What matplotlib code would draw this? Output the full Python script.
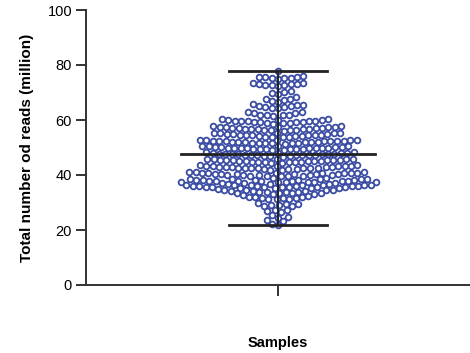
import numpy as np
import matplotlib
matplotlib.use("Agg")
import matplotlib.pyplot as plt

plt.rcParams["font.family"] = ["Liberation Sans", "DejaVu Sans"]

# total reads per sample (million)
reads = [
    77.8,
    75.9, 75.6, 75.2, 75.7, 75.4, 75.0, 75.8, 75.3,
    73.5, 73.2, 72.9, 72.6, 73.0, 72.7, 73.3, 72.4, 73.1,
    70.5, 70.0, 69.6, 70.2,
    68.3, 67.8, 67.4, 67.0, 66.6, 67.6,
    65.8, 65.0, 64.2, 65.6, 64.8, 64.4, 64.6, 65.2, 65.4,
    62.8, 62.0, 61.6, 62.6, 61.8, 62.9, 61.7, 62.5, 61.9,
    60.2, 59.9, 59.6, 59.3, 59.0, 60.0, 59.7, 59.4, 59.1, 58.8, 60.1, 59.8,
    59.5, 59.2, 58.9, 59.6, 60.3, 58.7,
    57.6, 57.3, 57.0, 56.7, 56.4, 57.4, 57.1, 56.8, 56.5, 57.7, 57.2, 56.9,
    56.6, 57.5, 56.3, 57.8, 56.2, 57.0, 56.7, 57.3, 56.1,
    55.2, 54.9, 54.6, 54.3, 54.0, 55.0, 54.7, 54.4, 54.1, 55.3, 54.8, 54.5,
    54.2, 55.1, 53.9, 55.4, 54.0, 54.7, 53.8, 55.2, 54.5,
    52.8, 52.5, 52.2, 51.9, 51.6, 52.6, 52.3, 52.0, 51.7, 52.9, 52.4, 52.1,
    51.8, 51.5, 52.7, 52.2, 51.9, 52.5, 51.6, 52.0, 52.3, 51.4, 52.8, 51.8, 52.1,
    50.4, 50.1, 49.8, 49.5, 49.2, 50.3, 50.0, 49.7, 49.4, 50.5, 49.9, 49.6,
    49.3, 50.2, 49.8, 49.5, 50.6, 49.1, 50.0, 49.7, 50.4, 49.4, 50.1, 49.9,
    48.1, 47.8, 47.5, 47.2, 46.9, 48.0, 47.7, 47.4, 47.1, 48.3, 47.6, 47.3,
    47.0, 46.8, 47.9, 47.5, 47.2, 48.2, 46.7, 47.8, 47.4, 47.1, 48.0, 47.6,
    45.8, 45.5, 45.2, 44.9, 44.6, 45.7, 45.4, 45.1, 44.8, 46.0, 45.3, 45.0,
    44.7, 44.5, 45.6, 45.2, 44.9, 45.9, 44.4, 45.5, 45.1, 44.8, 45.7, 45.3,
    43.4, 43.1, 42.8, 42.5, 42.2, 43.3, 43.0, 42.7, 42.4, 43.6, 42.9, 42.6,
    42.3, 42.0, 43.2, 42.8, 42.5, 43.5, 41.9, 43.0, 42.7, 42.2, 43.1, 42.4, 43.4,
    41.0, 40.7, 40.4, 40.1, 39.8, 40.9, 40.6, 40.3, 40.0, 41.2, 40.5, 40.2,
    39.9, 39.6, 40.8, 40.4, 40.1, 41.1, 39.5, 40.6, 40.3, 39.8, 40.9, 40.0, 40.7, 39.7,
    38.6, 38.3, 38.0, 37.7, 37.4, 38.5, 38.2, 37.9, 37.6, 38.8, 38.1, 37.8,
    37.5, 37.2, 38.4, 38.0, 37.7, 38.7, 37.1, 38.2, 37.9, 37.4, 38.5, 37.6,
    38.3, 37.3, 38.9, 37.0,
    36.6, 36.3, 36.0, 35.7, 35.4, 36.5, 36.2, 35.9, 35.6, 36.8, 36.1, 35.8,
    35.5, 35.2, 36.4, 36.0, 35.7, 36.7, 35.1, 36.2, 35.9, 35.4, 36.5, 35.6, 36.3,
    36.1, 35.8,
    34.4, 34.0, 33.6, 34.2, 33.8, 34.6, 33.4, 34.1, 33.7, 34.3, 33.9, 34.5, 33.5,
    34.8, 33.3, 34.7, 33.2, 33.0, 32.6,
    32.1, 31.7, 31.3, 31.9, 31.5, 32.3, 31.1, 31.8, 31.4, 32.0,
    29.7, 29.2, 28.8, 29.5, 29.0, 28.6, 29.3,
    27.4, 26.9, 27.2, 26.6,
    25.3, 24.8, 24.5,
    23.6, 23.2,
    21.9, 22.1,
]

y_ticks = [0, 20, 40, 60, 80, 100]
blue = "#3a4ba3"

W, H, DPI = 4.70, 3.53, 100
ax_rect = [86 / 470, 68 / 353, 384 / 470, 275 / 353]
xlim = (-0.75, 0.75)
ylim = (0, 100)


def swarm_offsets(values, px_per_y, diam):
    """Place points side by side (pixel space), nearest to the centre first."""
    order = np.argsort(values)
    ys = np.asarray(values)[order] * px_per_y
    placed_x, placed_y = [], []
    out = np.zeros(len(values))
    for idx, y in zip(order, ys):
        cands = [0.0]
        near = [(px, py) for px, py in zip(placed_x, placed_y) if abs(py - y) < diam]
        for px, py in near:
            dx = np.sqrt(diam**2 - (py - y) ** 2)
            cands += [px - dx, px + dx]
        cands.sort(key=abs)
        for c in cands:
            if all((c - px) ** 2 + (y - py) ** 2 >= diam**2 - 1e-6 for px, py in near):
                break
        placed_x.append(c)
        placed_y.append(y)
        out[idx] = c
    return out


fig = plt.figure(figsize=(W, H), dpi=DPI)
ax = fig.add_axes(ax_rect)

px_per_y = ax_rect[3] * H * DPI / (ylim[1] - ylim[0])
px_per_x = ax_rect[2] * W * DPI / (xlim[1] - xlim[0])
x_px = swarm_offsets(reads, px_per_y, 6.4)
xs = x_px / px_per_x

ax.scatter(xs, reads, s=17, facecolor="white", edgecolor=blue, linewidth=1.3, zorder=2)

mean = np.mean(reads)
lo, hi = np.min(reads), np.max(reads)
ax.plot([0, 0], [lo, hi], color="#222222", lw=1.4, zorder=3)
ax.plot([-0.38, 0.38], [mean, mean], color="#222222", lw=2.0, zorder=3)
ax.plot([-0.19, 0.19], [hi, hi], color="#222222", lw=2.0, zorder=3)
ax.plot([-0.19, 0.19], [lo, lo], color="#222222", lw=2.0, zorder=3)

ax.set_xlim(*xlim)
ax.set_ylim(*ylim)
ax.set_yticks(y_ticks)
ax.set_xticks([0])
ax.set_xticklabels([""])
for side in ["top", "right"]:
    ax.spines[side].set_visible(False)
for side in ["left", "bottom"]:
    ax.spines[side].set_linewidth(1.4)
    ax.spines[side].set_color("#333333")
ax.tick_params(axis="both", length=7, width=1.4, color="#333333", labelsize=10.5, pad=3)
ax.tick_params(axis="x", length=8)

ax.set_ylabel("Total number od reads (million)", fontsize=11, fontweight="bold", labelpad=10)
ax.set_xlabel("Samples", fontsize=10.5, fontweight="bold", labelpad=26)

fig.savefig("out.png", dpi=DPI)
